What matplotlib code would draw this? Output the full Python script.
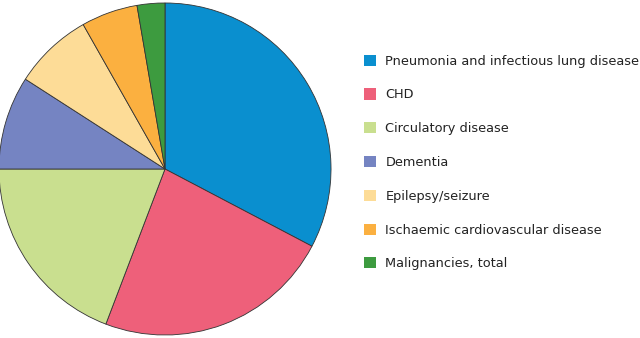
import matplotlib
matplotlib.use('Agg')
import matplotlib.pyplot as plt
from matplotlib.patches import Patch

causes = ['Pneumonia and infectious lung disease', 'CHD', 'Circulatory disease',
          'Dementia', 'Epilepsy/seizure', 'Ischaemic cardiovascular disease',
          'Malignancies, total']
shares = [32.7, 23.1, 19.2, 9.1, 7.7, 5.5, 2.7]
colours = ['#0a8fcf', '#ee607a', '#c9df8f', '#7584c2', '#fddc97', '#fbb040', '#3d9b3f']

fig = plt.figure(figsize=(6.4, 3.38), dpi=100)
# pie centred at about (165, 169) px, radius ~166 px
ax = fig.add_axes([(165 - 169) / 640, 0, 338 / 640, 1])
ax.pie(shares, colors=colours, startangle=90, counterclock=False, radius=1,
       wedgeprops=dict(edgecolor='#333333', linewidth=0.6))
ax.set_xlim(-1.018, 1.018)
ax.set_ylim(-1.018, 1.018)
ax.set_aspect('equal')
ax.axis('off')

handles = [Patch(facecolor=c, edgecolor='none') for c in colours]
fig.legend(handles, causes, loc='upper left', bbox_to_anchor=(352 / 640, 1 - 43 / 338),
           frameon=False, fontsize=9.3, handlelength=0.94, handleheight=0.94,
           handletextpad=0.75, labelspacing=1.61, labelcolor='#222222')

fig.savefig('out.png', dpi=100)
